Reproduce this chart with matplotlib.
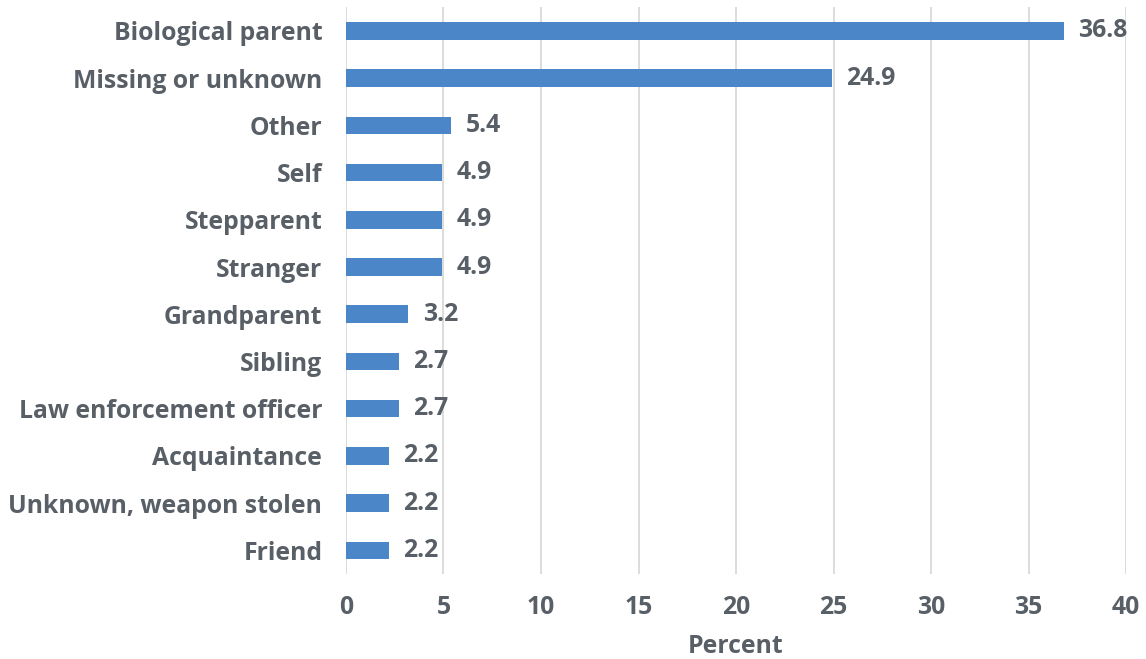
import matplotlib
matplotlib.use("Agg")
import matplotlib.pyplot as plt

categories = ["Biological parent", "Missing or unknown", "Other", "Self", "Stepparent",
              "Stranger", "Grandparent", "Sibling", "Law enforcement officer",
              "Acquaintance", "Unknown, weapon stolen", "Friend"]
values = [36.8, 24.9, 5.4, 4.9, 4.9, 4.9, 3.2, 2.7, 2.7, 2.2, 2.2, 2.2]
xticks = [0, 5, 10, 15, 20, 25, 30, 35, 40]

TEXT = "#595f66"
BAR = "#4a86c8"
FONT = "Open Sans"
FS = 17.8

fig = plt.figure(figsize=(11.46, 6.59), dpi=100)
ax = fig.add_axes([0.3019, 0.129, 0.6807, 0.86])

n = len(categories)
ypos = list(range(n))[::-1]
ax.barh(ypos, values, height=0.37, color=BAR, zorder=3)
for y, v in zip(ypos, values):
    ax.text(v + 0.75, y, f"{v:.1f}", va="center", ha="left", fontsize=FS,
            fontweight="bold", color=TEXT, family=FONT)

ax.set_xlim(0, 40)
ax.set_ylim(-0.5, n - 0.5)
ax.set_xticks(xticks)
ax.set_xticklabels([str(t) for t in xticks], fontsize=FS, fontweight="bold",
                   color=TEXT, family=FONT)
ax.set_yticks(ypos)
ax.set_yticklabels(categories, fontsize=FS, fontweight="bold", color=TEXT, family=FONT)
ax.tick_params(axis="both", length=0)
ax.tick_params(axis="x", pad=15)
ax.tick_params(axis="y", pad=17)
ax.grid(axis="x", color="#d9d9d9", linewidth=1.3, zorder=0)
for s in ax.spines.values():
    s.set_visible(False)
ax.set_xlabel("Percent", fontsize=FS, fontweight="bold", color=TEXT, family=FONT,
              labelpad=10)

fig.savefig("out.png", dpi=100)
